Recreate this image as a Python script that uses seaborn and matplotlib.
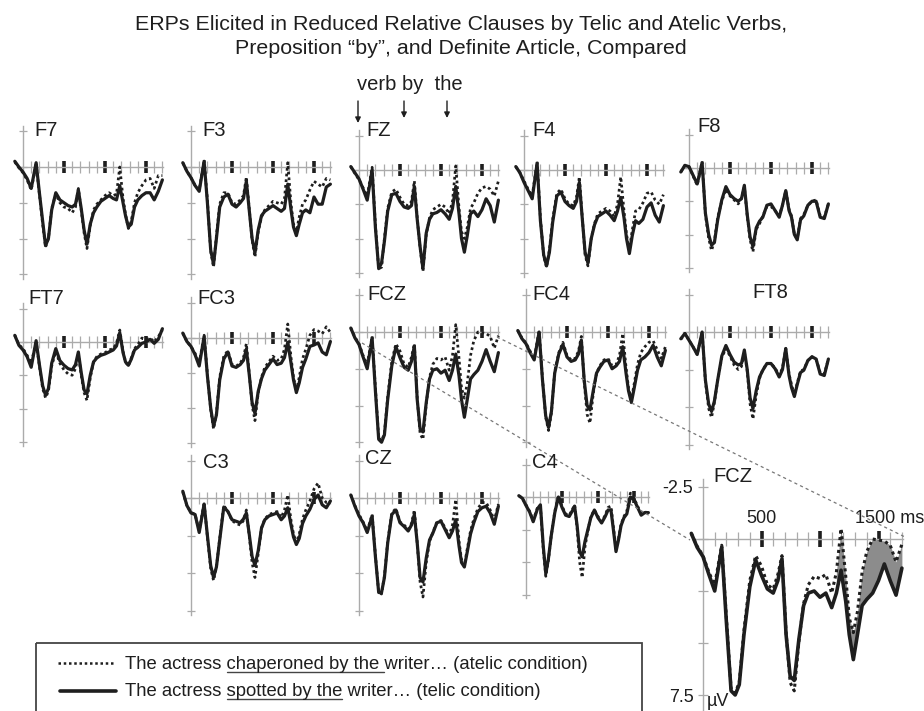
import numpy as np
import seaborn as sns
import matplotlib.pyplot as plt
from matplotlib.patches import Rectangle

sns.set_theme(style="white")
plt.rcParams['font.family'] = ['Liberation Sans', 'DejaVu Sans']

# time points (ms) shared by every waveform
TIME = [-100, -50, 0, 50, 100, 160, 200, 240, 275, 310, 350, 400, 450, 500,
        550, 600, 640, 675, 710, 745, 780, 820, 860, 900, 950, 1000, 1050,
        1100, 1140, 1180, 1220, 1250, 1285, 1320, 1360, 1400, 1450, 1500,
        1550, 1600, 1650, 1700]

# amplitudes in microvolts (positive plotted downwards)
F7_ATELIC = [-0.35, 0.05, 0.4, 0.9, 1.6, -0.2, 1.9, 4.0, 5.6, 5.0, 2.9, 1.9, 2.5, 2.8,
             2.9, 3.2, 2.8, 1.5, 3.0, 4.6, 5.7, 4.1, 3.0, 2.6, 2.3, 2.0, 1.8, 2.0,
             1.9, 0.0, 2.2, 3.3, 4.3, 3.8, 2.5, 1.8, 1.3, 0.9, 0.8, 1.5, 0.6, 0.6]
F7_TELIC = [-0.4, 0.0, 0.35, 0.8, 1.5, -0.3, 1.8, 3.8, 5.5, 5.0, 3.0, 1.8, 2.3, 2.5,
            2.7, 2.8, 2.6, 1.6, 2.9, 4.4, 5.4, 4.0, 3.2, 2.8, 2.4, 2.2, 2.0, 2.2,
            2.3, 1.3, 2.5, 3.4, 4.2, 4.0, 2.8, 2.3, 2.0, 1.8, 1.8, 2.3, 1.7, 0.9]
F3_ATELIC = [-0.3, 0.3, 0.75, 1.3, 1.6, -0.5, 2.3, 5.9, 7.0, 4.8, 2.6, 1.8, 1.8, 2.5,
             2.6, 2.3, 2.0, 0.7, 2.9, 5.1, 6.3, 4.5, 3.5, 3.0, 2.7, 2.4, 2.5, 2.6,
             2.2, -0.3, 2.6, 4.0, 4.5, 3.5, 2.6, 2.3, 1.6, 1.0, 1.2, 1.4, 0.8, 0.9]
F3_TELIC = [-0.3, 0.3, 0.75, 1.3, 1.7, -0.4, 2.5, 5.8, 6.8, 5.0, 2.8, 2.1, 1.9, 2.6,
            2.8, 2.5, 2.2, 1.0, 3.0, 5.0, 6.0, 4.4, 3.4, 3.1, 2.9, 2.7, 2.9, 3.1,
            2.9, 1.2, 3.0, 4.2, 4.8, 4.0, 3.2, 3.0, 3.2, 2.1, 2.6, 2.6, 1.4, 1.2]
FZ_ATELIC = [-0.25, 0.25, 0.7, 1.3, 1.9, -0.2, 4.0, 7.2, 7.1, 5.0, 2.8, 1.6, 1.4, 2.0,
             2.5, 2.6, 2.3, 0.8, 3.5, 5.7, 7.4, 4.7, 3.5, 2.9, 2.7, 2.5, 2.7, 3.2,
             2.3, -0.3, 2.8, 4.5, 5.0, 4.2, 2.8, 2.4, 1.7, 1.3, 1.2, 1.4, 1.9, 0.8]
FZ_TELIC = [-0.25, 0.2, 0.65, 1.4, 2.2, 0.0, 4.2, 7.2, 6.8, 5.2, 3.0, 1.8, 1.7, 2.3,
            2.7, 2.8, 2.6, 1.2, 3.6, 5.6, 7.2, 4.6, 3.6, 3.2, 3.1, 2.9, 3.2, 3.6,
            2.8, 1.2, 3.2, 5.0, 6.0, 4.8, 3.2, 3.0, 3.4, 2.9, 2.1, 2.6, 3.8, 2.2]
F4_ATELIC = [-0.25, 0.2, 0.8, 1.4, 1.9, -0.6, 3.5, 6.3, 7.1, 5.8, 3.6, 1.7, 1.4, 2.1,
             2.5, 2.6, 2.0, 0.5, 3.4, 6.2, 7.0, 5.0, 3.9, 3.2, 3.0, 2.8, 3.0, 3.4,
             2.5, 0.5, 3.0, 4.7, 5.8, 4.4, 3.0, 2.9, 2.4, 1.7, 1.6, 2.2, 2.5, 1.8]
F4_TELIC = [-0.25, 0.2, 0.9, 1.5, 2.1, -0.5, 3.7, 6.2, 7.0, 6.0, 3.8, 1.9, 1.6, 2.3,
            2.6, 2.8, 2.3, 0.9, 3.5, 6.0, 6.8, 5.0, 4.0, 3.4, 3.2, 3.0, 3.3, 3.7,
            3.0, 2.0, 3.5, 5.0, 6.1, 4.8, 3.7, 3.9, 3.6, 2.7, 2.4, 3.3, 3.8, 2.6]
F8_ATELIC = [0.3, -0.2, -0.1, 0.6, 1.3, -0.5, 3.5, 5.3, 6.2, 5.5, 3.7, 2.5, 1.6, 2.1,
             2.4, 2.7, 2.3, 1.4, 3.6, 5.4, 6.3, 4.6, 4.2, 3.6, 2.9, 2.9, 3.2, 3.6,
             2.8, 1.7, 3.1, 3.6, 5.0, 5.3, 3.8, 3.5, 2.8, 2.5, 2.4, 3.6, 3.7, 2.7]
F8_TELIC = [0.3, -0.2, -0.1, 0.55, 1.2, -0.4, 3.4, 5.0, 5.8, 5.6, 3.9, 2.4, 1.4, 2.0,
            2.3, 2.5, 2.3, 1.3, 3.5, 5.2, 5.9, 4.5, 4.0, 3.7, 2.8, 2.7, 3.2, 3.7,
            2.8, 1.7, 3.2, 3.7, 5.0, 5.4, 3.9, 3.6, 2.8, 2.5, 2.5, 3.7, 3.8, 2.7]

FT7_ATELIC = [-0.5, 0.2, 0.5, 1.0, 1.6, 0.0, 1.8, 3.5, 4.2, 3.7, 1.8, 0.7, 1.6, 2.1,
              2.4, 2.5, 2.0, 0.9, 2.5, 3.8, 4.4, 2.7, 1.5, 1.1, 0.9, 0.8, 0.6, 0.5,
              0.1, -0.9, 0.7, 1.5, 1.8, 1.2, 0.5, 0.2, -0.3, -0.2, -0.3, 0.0, -0.4, -0.9]
FT7_TELIC = [-0.5, 0.25, 0.6, 1.1, 1.9, -0.1, 1.7, 3.3, 4.0, 3.5, 1.6, 0.5, 1.4, 1.75,
             2.0, 2.1, 1.7, 0.75, 2.3, 3.6, 3.9, 2.5, 1.5, 1.2, 1.0, 0.9, 0.75, 0.6,
             0.3, -0.7, 0.8, 1.5, 1.75, 1.3, 0.6, 0.4, 0.1, 0.0, -0.2, 0.1, -0.2, -1.0]
FC3_ATELIC = [-0.35, 0.25, 0.6, 1.1, 1.8, -0.2, 2.6, 5.1, 6.5, 5.4, 2.8, 1.3, 0.9, 1.9,
              2.0, 1.8, 1.4, 0.4, 2.5, 4.8, 5.9, 3.9, 2.8, 2.1, 1.7, 1.3, 1.6, 1.5,
              0.8, -1.0, 1.4, 2.8, 3.8, 2.8, 1.5, 0.8, -0.2, -0.6, -0.5, -0.3, -0.8, -0.4]
FC3_TELIC = [-0.35, 0.25, 0.6, 1.2, 2.0, -0.1, 2.7, 5.0, 6.3, 5.5, 3.0, 1.5, 1.0, 2.0,
             2.1, 1.9, 1.6, 0.8, 2.6, 4.6, 5.4, 3.8, 2.9, 2.3, 1.9, 1.5, 1.9, 1.8,
             1.4, 0.3, 1.8, 3.0, 3.9, 3.2, 2.1, 1.5, 0.6, 0.5, 0.35, 1.0, 1.2, 0.25]
FCZ_ATELIC = [-0.27, 0.35, 0.8, 1.6, 2.2, 0.3, 3.8, 7.2, 7.4, 6.9, 4.4, 2.0, 0.8, 1.3,
              2.2, 2.4, 1.7, 0.8, 4.5, 6.9, 7.3, 4.9, 3.1, 2.2, 1.8, 1.9, 1.7, 2.6,
              1.6, -0.5, 1.8, 3.8, 4.5, 3.5, 1.6, 0.6, 0.0, 0.05, 0.1, 0.3, 1.1, 0.25]
FCZ_TELIC = [-0.27, 0.4, 0.85, 1.7, 2.5, 0.4, 4.0, 7.3, 7.5, 7.0, 4.6, 2.3, 1.0, 1.75,
             2.4, 2.6, 2.0, 0.95, 4.6, 6.6, 6.8, 4.8, 3.2, 2.6, 2.5, 2.8, 2.6, 3.3,
             2.6, 1.5, 3.0, 4.6, 5.8, 4.6, 3.2, 2.9, 2.6, 2.0, 1.2, 2.0, 2.7, 1.4]
FC4_ATELIC = [-0.1, 0.4, 0.75, 1.3, 1.8, -0.1, 3.1, 5.8, 6.7, 5.5, 2.7, 1.4, 0.7, 1.6,
              1.9, 1.8, 1.3, 0.3, 3.4, 5.6, 6.2, 4.2, 2.8, 2.3, 1.9, 1.8, 2.3, 2.2,
              1.6, 0.1, 2.4, 3.8, 4.6, 3.5, 2.2, 1.4, 1.0, 0.7, 0.6, 1.2, 1.8, 1.0]
FC4_TELIC = [-0.1, 0.45, 0.8, 1.4, 1.9, 0.0, 3.2, 5.7, 6.5, 5.4, 2.8, 1.5, 0.85, 1.7,
             2.0, 1.9, 1.5, 0.55, 3.3, 5.0, 5.3, 4.0, 2.8, 2.4, 2.0, 1.9, 2.5, 2.3,
             2.0, 1.0, 2.8, 4.0, 4.8, 3.8, 2.6, 1.9, 1.7, 1.4, 0.9, 1.7, 2.3, 1.25]
FT8_ATELIC = [0.5, 0.1, 0.55, 1.0, 1.5, 0.0, 3.3, 5.1, 5.7, 4.7, 3.2, 1.7, 1.1, 1.6,
              2.2, 2.5, 2.3, 1.3, 2.6, 4.8, 5.8, 4.2, 3.1, 2.5, 2.1, 2.1, 2.4, 2.9,
              2.4, 1.1, 2.8, 3.5, 4.2, 3.4, 2.6, 2.5, 1.9, 1.65, 1.8, 2.7, 2.8, 1.8]
FT8_TELIC = [0.45, 0.1, 0.55, 1.0, 1.5, 0.0, 3.2, 4.8, 5.3, 4.6, 3.2, 1.6, 0.9, 1.5,
             2.0, 2.2, 2.1, 1.2, 2.5, 4.4, 5.1, 3.9, 3.0, 2.55, 2.1, 2.1, 2.45, 3.0,
             2.5, 1.1, 2.9, 3.7, 4.3, 3.5, 2.7, 2.55, 1.9, 1.65, 1.8, 2.8, 2.9, 1.8]

C3_ATELIC = [-0.4, 0.5, 0.95, 1.1, 2.2, 0.3, 2.6, 4.7, 5.5, 4.6, 2.7, 0.5, 0.9, 1.5,
             1.7, 1.8, 1.5, 0.8, 2.5, 4.3, 5.3, 3.7, 2.0, 1.4, 1.1, 1.0, 0.9, 1.3,
             0.8, -0.2, 1.5, 2.4, 3.0, 2.4, 1.4, 0.8, 0.2, -0.6, -1.0, 0.0, 0.3, 0.3]
C3_TELIC = [-0.45, 0.5, 1.0, 1.1, 2.3, 0.4, 2.5, 4.5, 5.3, 4.6, 2.8, 0.6, 0.9, 1.45,
            1.55, 1.65, 1.4, 1.0, 2.4, 3.9, 4.5, 3.5, 2.0, 1.45, 1.2, 1.1, 1.0, 1.45,
            1.2, 0.65, 1.8, 2.6, 3.1, 2.7, 1.7, 1.2, 0.75, 0.1, -0.2, 0.45, 0.65, 0.2]
CZ_ATELIC = [-0.2, 0.5, 1.1, 1.6, 2.2, 1.1, 3.8, 6.3, 6.4, 5.2, 2.9, 1.0, 0.7, 1.6,
             1.8, 2.1, 1.7, 0.8, 3.0, 5.6, 6.6, 4.3, 2.9, 2.3, 1.6, 1.5, 2.0, 2.5,
             1.8, 0.1, 2.9, 4.1, 4.5, 3.4, 2.2, 1.4, 0.7, 0.3, 0.3, 0.8, 1.5, 0.4]
CZ_TELIC = [-0.2, 0.55, 1.2, 1.65, 2.3, 1.2, 3.9, 6.3, 6.3, 5.3, 3.0, 1.1, 0.8, 1.65,
            1.9, 2.2, 1.8, 1.1, 3.0, 5.3, 5.6, 4.0, 2.8, 2.35, 1.65, 1.55, 2.1, 2.65,
            2.2, 1.45, 3.2, 4.3, 4.6, 3.6, 2.4, 1.65, 0.9, 0.65, 0.55, 1.0, 1.75, 0.55]
C4_ATELIC = [-0.1, 0.1, 0.6, 1.1, 1.8, 0.8, 0.7, 4.0, 6.1, 4.9, 3.0, 1.1, -0.1, 0.7,
             1.3, 1.4, 1.0, 0.6, 2.4, 5.0, 6.2, 3.8, 2.6, 1.5, 1.0, 1.5, 1.9, 1.4,
             0.8, 0.7, 2.6, 4.0, 3.2, 2.1, 1.5, 1.1, -0.3, 0.1, 0.7, 1.3, 1.2, 1.1]
C4_TELIC = [-0.1, 0.1, 0.65, 1.15, 1.9, 0.9, 0.6, 3.8, 5.9, 4.8, 3.0, 1.2, 0.0, 0.8,
            1.4, 1.5, 1.1, 0.7, 2.2, 4.2, 4.6, 3.4, 2.5, 1.6, 1.0, 1.6, 2.0, 1.5,
            1.0, 1.0, 2.8, 4.2, 3.3, 2.2, 1.6, 1.3, 0.0, 0.2, 0.8, 1.4, 1.2, 1.2]

# layout: name, atelic, telic, origin x/y (px), px per ms, px per uV, label x/y (px)
PANELS = [
    ("F7", F7_ATELIC, F7_TELIC, 23, 167, 0.082, 14.3, 34, 130),
    ("F3", F3_ATELIC, F3_TELIC, 191, 167, 0.082, 14.3, 202, 130),
    ("FZ", FZ_ATELIC, FZ_TELIC, 359, 170, 0.082, 13.7, 366, 130),
    ("F4", F4_ATELIC, F4_TELIC, 524, 170, 0.082, 13.7, 532, 130),
    ("F8", F8_ATELIC, F8_TELIC, 689, 168, 0.082, 13.3, 697, 126),
    ("FT7", FT7_ATELIC, FT7_TELIC, 23, 342, 0.082, 13.3, 28, 298),
    ("FC3", FC3_ATELIC, FC3_TELIC, 191, 338, 0.082, 14.0, 197, 298),
    ("FCZ", FCZ_ATELIC, FCZ_TELIC, 359, 332, 0.082, 14.7, 367, 295),
    ("FC4", FC4_ATELIC, FC4_TELIC, 526, 332, 0.082, 14.7, 532, 295),
    ("FT8", FT8_ATELIC, FT8_TELIC, 689, 332, 0.082, 15.0, 752, 293),
    ("C3", C3_ATELIC, C3_TELIC, 191, 498, 0.082, 15.0, 203, 462),
    ("CZ", CZ_ATELIC, CZ_TELIC, 359, 498, 0.082, 15.0, 365, 458),
    ("C4", C4_ATELIC, C4_TELIC, 526, 497, 0.072, 13.0, 532, 462),
]

W, H = 924, 711
XMIN, XMAX, YTOP, YBOT = -130, 1730, -3.4, 8.6
AX_GRAY = '#ababab'
INK = '#1e1e1e'

fig = plt.figure(figsize=(W / 100, H / 100), dpi=100)


def make_axes(ox, oy, sx, sy):
    left = ox + XMIN * sx
    top = oy + YTOP * sy
    width = (XMAX - XMIN) * sx
    height = (YBOT - YTOP) * sy
    ax = fig.add_axes([left / W, 1 - (top + height) / H, width / W, height / H])
    ax.patch.set_visible(False)
    return ax


def draw_erp(ax, atelic, telic, big=False):
    lw = 2.6 if big else 2.3
    sns.lineplot(x=TIME, y=atelic, ax=ax, color=INK, lw=lw * 0.85,
                 linestyle=(0, (1, 1.1)), zorder=3)
    sns.lineplot(x=TIME, y=telic, ax=ax, color=INK, lw=lw, zorder=4)
    ax.set_xlim(XMIN, XMAX)
    ax.set_ylim(YBOT, YTOP)
    for s in ['top', 'right']:
        ax.spines[s].set_visible(False)
    ax.spines['left'].set_position(('data', 0))
    ax.spines['bottom'].set_position(('data', 0))
    ax.spines['left'].set_bounds(-2.9, 8.2 if big else 7.8)
    ax.spines['bottom'].set_bounds(-70, 1710)
    for s in ['left', 'bottom']:
        ax.spines[s].set_color(AX_GRAY)
        ax.spines[s].set_linewidth(1.0)
    ax.set_xticks([500, 1000, 1500])
    ax.set_xticks(range(100, 1701, 100), minor=True)
    ax.set_yticks([-2.5, 0, 2.5, 5, 7.5])
    k = 1.3 if big else 1.0
    ax.tick_params(axis='x', which='major', bottom=True, direction='inout',
                   length=9 * k, width=2.6, color=INK, labelbottom=False)
    ax.tick_params(axis='x', which='minor', bottom=True, direction='inout',
                   length=8 * k, width=0.9, color=AX_GRAY)
    ax.tick_params(axis='y', which='major', left=True, direction='inout',
                   length=6 * k, width=0.9, color=AX_GRAY, labelleft=False)
    ax.set_xlabel('')
    ax.set_ylabel('')


for name, atelic, telic, ox, oy, sx, sy, lx, ly in PANELS:
    ax = make_axes(ox, oy, sx, sy)
    draw_erp(ax, atelic, telic)

# enlarged FCZ panel
big = make_axes(703, 539, 0.117, 20.8)
draw_erp(big, FCZ_ATELIC, FCZ_TELIC, big=True)
t_arr = np.array(TIME)
at_arr = np.array(FCZ_ATELIC)
te_arr = np.array(FCZ_TELIC)
mask = t_arr >= 1140
big.fill_between(t_arr[mask], at_arr[mask], te_arr[mask], color='#8c8c8c',
                 lw=0, zorder=2)
big.set_yticks([-2.5, 0, 2.5, 5, 7.5], labels=['-2.5', '', '', '', '7.5'])
big.tick_params(axis='y', labelleft=True, labelsize=13, labelcolor=INK, pad=3)
big.text(500, -0.6, '500', ha='center', va='bottom', fontsize=13, color=INK)
big.text(1300, -0.6, '1500 ms', ha='left', va='bottom', fontsize=13, color=INK)

# overlay in pixel coordinates for titles, labels, legend and zoom lines
ov = fig.add_axes([0, 0, 1, 1])
ov.set_xlim(0, W)
ov.set_ylim(H, 0)
ov.axis('off')

ov.text(461, 24, 'ERPs Elicited in Reduced Relative Clauses by Telic and Atelic Verbs,',
        ha='center', va='center', fontsize=15.4, color=INK)
ov.text(461, 48, 'Preposition \u201cby\u201d, and Definite Article, Compared',
        ha='center', va='center', fontsize=15.4, color=INK)

ov.text(357, 85, 'verb by  the', ha='left', va='center', fontsize=14.5, color=INK)
for ax_x, y1 in [(358, 123), (404, 118), (447, 118)]:
    ov.annotate('', xy=(ax_x, y1), xytext=(ax_x, 101),
                arrowprops=dict(arrowstyle='-|>', color=INK, lw=1.0,
                                mutation_scale=8, shrinkA=0, shrinkB=0))

for name, atelic, telic, ox, oy, sx, sy, lx, ly in PANELS:
    ov.text(lx, ly, name, ha='left', va='center', fontsize=14.5, color=INK)
ov.text(713, 477, 'FCZ', ha='left', va='center', fontsize=14.5, color=INK)
ov.text(707, 701, '\u00b5V', ha='left', va='center', fontsize=13, color=INK)

# dashed zoom lines
ov.plot([362, 690], [343, 540], color='#777777', lw=0.9, ls=(0, (2.5, 2.5)))
ov.plot([497, 905], [337, 537], color='#777777', lw=0.9, ls=(0, (2.5, 2.5)))

# legend box
ov.add_patch(Rectangle((36, 643), 606, 90, fill=False, ec='#444444', lw=1.3))
ov.plot([58, 113], [663, 663], color=INK, lw=1.8, ls=(0, (1, 1.1)))
ov.plot([60, 116], [691, 691], color=INK, lw=2.6)

renderer = fig.canvas.get_renderer()
LEG_FS = 13.3


def text_width(s):
    t = ov.text(0, 0, s, fontsize=LEG_FS)
    w = t.get_window_extent(renderer).width
    t.remove()
    return w


def legend_row(y, before, under, after):
    x0 = 125
    ov.text(x0, y, before + under + after, ha='left', va='baseline',
            fontsize=LEG_FS, color=INK)
    u0 = x0 + text_width(before + 'c') - text_width('c')
    if under.endswith(' '):
        u1 = x0 + text_width(before + under + 'w') - text_width('w')
    else:
        u1 = x0 + text_width(before + under)
    ov.plot([u0, u1], [y + 3, y + 3], color='#444444', lw=1.0)


legend_row(669, 'The actress ', 'chaperoned by the ', 'writer\u2026 (atelic condition)')
legend_row(696, 'The actress ', 'spotted by the', ' writer\u2026 (telic condition)')

fig.savefig('out.png', dpi=100)
